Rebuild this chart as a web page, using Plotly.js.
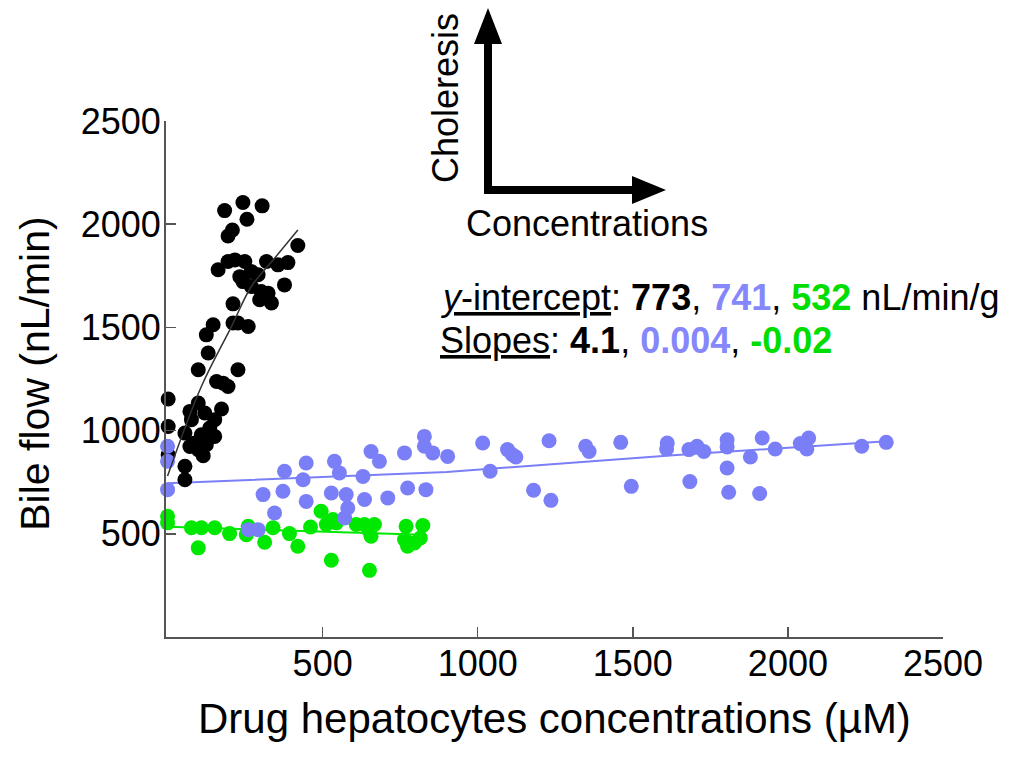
<!DOCTYPE html>
<html>
<head>
<meta charset="utf-8">
<script src="https://cdn.plot.ly/plotly-3.0.1.min.js"></script>
<style>
  html, body { margin: 0; padding: 0; background: #ffffff; }
  #chart { width: 1024px; height: 767px; }
</style>
</head>
<body>
<div id="chart"></div>
<script>
// ---- Data ----
const blackX = [184,243,305,256,209,195,420,163,195,217,249,233,270,292,319,356,388,243,270,302,324,335,297,377,211,260,211,147,125,227,131,99,227,158,179,195,2,99,72,120,174,152,136,77,109,152,2,56,72,99,115,2,56,56,88,125];
const blackY = [2066,2105,2089,2024,1972,1943,1897,1779,1819,1827,1819,1746,1771,1755,1819,1803,1814,1722,1698,1674,1666,1618,1634,1706,1614,1504,1521,1513,1464,1521,1376,1295,1295,1238,1230,1214,1153,1134,1093,1085,1105,1053,1012,1053,980,972,1020,988,923,908,878,883,827,762,940,932];

const blueX = [0,0,0,377,447,437,538,554,630,656,683,764,828,828,855,903,308,372,447,345,528,576,581,571,635,710,774,833,260,292,1016,1040,1096,1112,1123,1180,1236,1230,1348,1359,1461,1495,1611,1609,1681,1707,1729,1684,1804,1804,1804,1809,1879,1909,1917,1959,2040,2067,2061,2238,2317];
const blueY = [924,851,714,803,843,762,851,795,778,899,851,892,972,924,892,875,690,706,657,601,698,690,625,577,666,674,722,714,520,520,940,803,908,883,872,711,662,951,924,899,943,730,940,911,908,924,899,753,956,921,819,701,872,695,964,911,937,964,911,924,943];

const greenX = [0,0,77,109,152,200,99,254,260,313,340,393,420,461,495,512,533,544,528,608,635,667,651,656,651,769,823,764,774,796,815];
const greenY = [585,553,529,529,529,501,432,496,536,459,529,501,440,533,609,545,569,553,372,545,545,545,512,488,323,536,540,472,440,456,480];

// fitted curves
const blackFitX = [0, 109, 206, 270, 345, 420];
const blackFitY = [780, 1214, 1504, 1698, 1835, 1972];
const blueFitX = [0, 450, 900, 1630, 2330];
const blueFitY = [745, 772, 800, 880, 950];
const greenFitX = [0, 820];
const greenFitY = [534, 495];

const intercepts = ['773', '741', '532'];
const slopes = ['4.1', '0.004', '-0.02'];
const tickValues = [500, 1000, 1500, 2000, 2500];

// ---- Styling ----
const FONT = 'Liberation Sans, Arial, Helvetica, sans-serif';
const C_BLACK = '#000000';
const C_BLUE = '#7b7ff7';
const C_BLUE_TXT = '#8587fb';
const C_GREEN = '#00e800';
const C_GREEN_TXT = '#00dd00';
const textColors = [C_BLACK, C_BLUE_TXT, C_GREEN_TXT];

const L = 166, R = 81, T = 121, B = 129.5;
const W = 1024, H = 767;
const PW = W - L - R, PH = H - T - B;
const px = v => (v - L) / PW;          // pixel -> paper x
const py = v => (H - B - v) / PH;      // pixel -> paper y

const markerStyle = c => ({color: c, size: 15, line: {width: 0}});

const traces = [
  {x: greenFitX, y: greenFitY, mode: 'lines', line: {color: C_GREEN, width: 2}, cliponaxis: false, hoverinfo: 'skip'},
  {x: greenX, y: greenY, mode: 'markers', marker: markerStyle(C_GREEN), cliponaxis: false},
  {x: blueFitX, y: blueFitY, mode: 'lines', line: {color: C_BLUE, width: 2}, cliponaxis: false, hoverinfo: 'skip'},
  {x: blackX, y: blackY, mode: 'markers', marker: markerStyle(C_BLACK), cliponaxis: false},
  {x: blueX, y: blueY, mode: 'markers', marker: markerStyle(C_BLUE), cliponaxis: false},
  {x: blackFitX, y: blackFitY, mode: 'lines', line: {color: '#333333', width: 1.5, shape: 'spline'}, cliponaxis: false, hoverinfo: 'skip'}
];

function line1() {
  let s = '<u><i>y</i>-intercept</u>: ';
  s += intercepts.map((v, i) => '<b><span style="color:' + textColors[i] + '">' + v + '</span></b>').join(', ');
  return s + ' nL/min/g';
}
function line2() {
  let s = '<u>Slopes</u>: ';
  s += slopes.map((v, i) => '<b><span style="color:' + textColors[i] + '">' + v + '</span></b>').join(', ');
  return s;
}

const annFont = sz => ({family: FONT, size: sz, color: '#000000'});

const axisCommon = {
  showgrid: false, zeroline: false,
  showline: true, linecolor: '#555555', linewidth: 2,
  ticks: 'inside', ticklen: 10, tickwidth: 1.5, tickcolor: '#555555',
  tickvals: tickValues, ticktext: tickValues.map(String),
  tickfont: {family: FONT, size: 36, color: '#000000'}
};

const layout = {
  width: W, height: H,
  margin: {l: L, r: R, t: T, b: B, pad: 0},
  paper_bgcolor: '#ffffff', plot_bgcolor: '#ffffff',
  showlegend: false,
  xaxis: Object.assign({}, axisCommon, {range: [-5, 2500], ticklabelstandoff: -6}),
  yaxis: Object.assign({}, axisCommon, {range: [0, 2500], ticklabelstandoff: -4}),
  annotations: [
    {text: 'Bile flow (nL/min)', xref: 'paper', yref: 'paper', x: px(35), y: py(374),
     xanchor: 'center', yanchor: 'middle', textangle: -90, showarrow: false, font: annFont(41)},
    {text: 'Drug hepatocytes concentrations (µM)', xref: 'paper', yref: 'paper', x: px(554.5), y: py(719),
     xanchor: 'center', yanchor: 'middle', showarrow: false, font: annFont(42)},
    {text: 'Choleresis', xref: 'paper', yref: 'paper', x: px(445), y: py(98),
     xanchor: 'center', yanchor: 'middle', textangle: -90, showarrow: false, font: annFont(36)},
    {text: 'Concentrations', xref: 'paper', yref: 'paper', x: px(587), y: py(224),
     xanchor: 'center', yanchor: 'middle', showarrow: false, font: annFont(36)},
    {text: line1(), xref: 'paper', yref: 'paper', x: px(438), y: py(298),
     xanchor: 'left', yanchor: 'middle', showarrow: false, font: annFont(36)},
    {text: line2(), xref: 'paper', yref: 'paper', x: px(438), y: py(341),
     xanchor: 'left', yanchor: 'middle', showarrow: false, font: annFont(36)}
  ],
  shapes: [
    {type: 'path', xref: 'paper', yref: 'paper',
     path: 'M' + px(488) + ',' + py(40) + ' L' + px(488) + ',' + py(190) + ' L' + px(636) + ',' + py(190),
     line: {color: '#000000', width: 8}},
    {type: 'path', xref: 'paper', yref: 'paper',
     path: 'M' + px(474) + ',' + py(44) + ' L' + px(502) + ',' + py(44) + ' L' + px(488) + ',' + py(8) + ' Z',
     fillcolor: '#000000', line: {width: 0}},
    {type: 'path', xref: 'paper', yref: 'paper',
     path: 'M' + px(632) + ',' + py(176) + ' L' + px(632) + ',' + py(204) + ' L' + px(666) + ',' + py(190) + ' Z',
     fillcolor: '#000000', line: {width: 0}}
  ]
};

Plotly.newPlot('chart', traces, layout, {displayModeBar: false, staticPlot: true});
</script>
</body>
</html>
